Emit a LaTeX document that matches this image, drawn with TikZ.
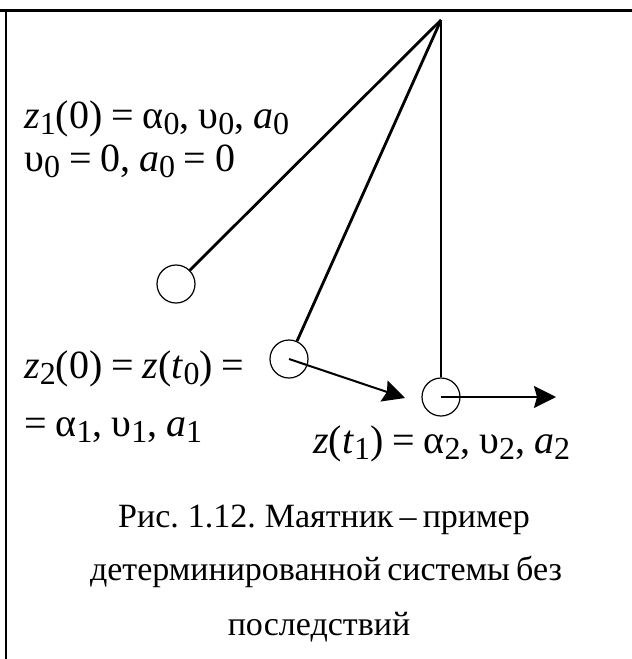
\documentclass[tikz,border=0pt]{standalone}
\usepackage{fontspec}
\setmainfont{Liberation Serif}
\usetikzlibrary{arrows.meta, positioning}

% italic letter and lowered index, as in the equation editor
\newcommand{\vi}[1]{\textit{#1}}
\newcommand{\lo}[1]{\raisebox{-3pt}{\fontsize{16}{16}\selectfont #1}}
\newcommand{\eqfont}{\fontsize{20}{20}\selectfont\spaceskip=0.22em\relax}
\newcommand{\capfont}{\fontsize{17}{17}\selectfont\spaceskip=0.18em\relax}

\begin{document}
\begin{tikzpicture}[
  x=0.5pt, y=-0.5pt,
  bob/.style={draw, circle, minimum size=19pt, inner sep=0pt, line width=0.6pt},
  rod/.style={line width=1.4pt},
  vel/.style={line width=1pt, -{Stealth[length=11pt, width=11pt, inset=1.5pt]}},
  eq/.style={anchor=base west, inner sep=0pt, font=\eqfont},
  captext/.style={anchor=base, inner sep=0pt, font=\capfont}
]
\useasboundingbox (0,0) rectangle (632,659);

% frame
\draw[line width=1.5pt] (0,10.5) -- (632,10.5);
\draw[line width=1.3pt] (6,10.5) -- (6,659);

% suspension point and the three positions of the bob
\coordinate (pivot) at (441,20);
\node[bob] (bob1) at (176,284) {};
\node[bob] (bob2) at (289,359) {};
\node[bob] (bob3) at (441,397) {};

% rods
\draw[rod] (pivot) -- (bob1);
\draw[rod] (pivot) -- (bob2);
\draw[rod] (pivot) -- (bob3);

% velocity arrows
\coordinate (vel2) at (405,398);
\coordinate (vel3) at (556,397);
\draw[vel] (bob2.center) -- (vel2);
\draw[vel] (bob3.center) -- (vel3);

% states
\node[eq] (init1) at (24,128) {\vi{z}\lo{1}(0) = α\lo{0}, υ\lo{0}, \vi{a}\lo{0}};
\node[eq] (init2) at (24,171) {υ\lo{0} = 0, \vi{a}\lo{0} = 0};
\node[eq] (mid1) at (24,378) {\vi{z}\lo{2}(0) = \vi{z}(\vi{t}\lo{0}) =};
\node[eq] (mid2) at (24,436) {= α\lo{1}, υ\lo{1}, \vi{a}\lo{1}};
\node[eq] (fin) at (313,453) {\vi{z}(\vi{t}\lo{1}) = α\lo{2}, υ\lo{2}, \vi{a}\lo{2}};

% caption
\node[captext] (cap1) at (324,527) {Рис. 1.12. Маятник – пример};
\node[captext] (cap2) at (326,580) {детерминированной системы без};
\node[captext] (cap3) at (319,635) {последствий};

\end{tikzpicture}
\end{document}
